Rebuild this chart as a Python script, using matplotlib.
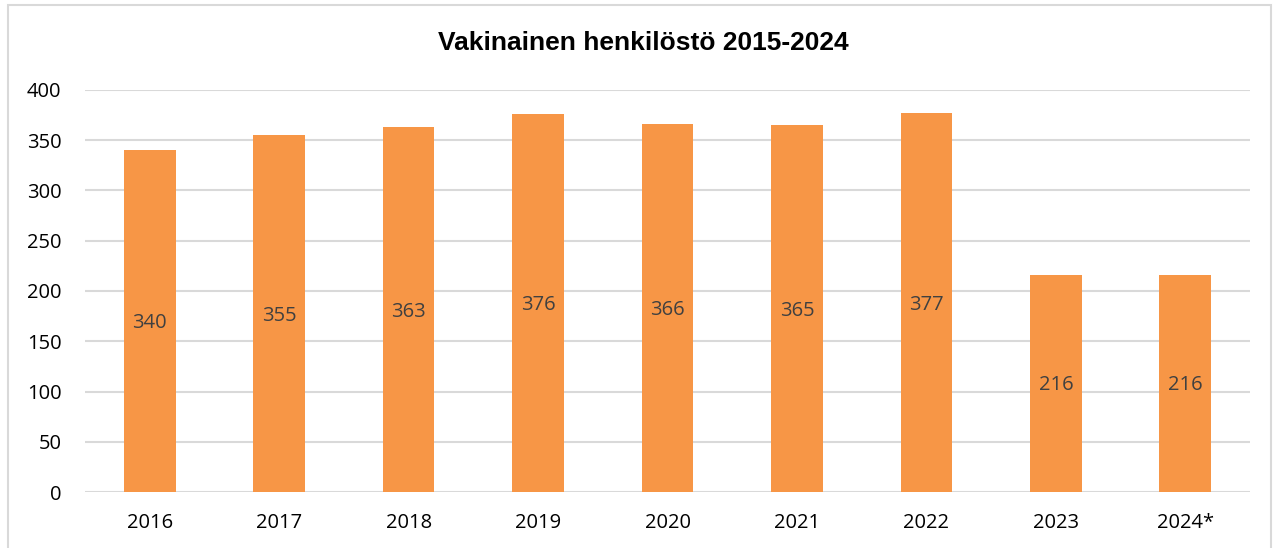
import matplotlib
matplotlib.use("Agg")
import matplotlib.pyplot as plt
from matplotlib.patches import Rectangle

categories = ["2016", "2017", "2018", "2019", "2020", "2021", "2022", "2023", "2024*"]
values = [340, 355, 363, 376, 366, 365, 377, 216, 216]
yticks = [0, 50, 100, 150, 200, 250, 300, 350, 400]
title = "Vakinainen henkilöstö 2015-2024"

W, H = 1277, 548
fig = plt.figure(figsize=(W / 100, H / 100), dpi=100)
fig.patch.set_facecolor("white")

# outer chart frame
fig.add_artist(Rectangle((8 / W, -0.05), (1271 - 8) / W, (H - 5) / H + 0.05,
                         transform=fig.transFigure, fill=False,
                         edgecolor="#D9D9D9", linewidth=1.5))

left, right = 85 / W, 1250 / W
bottom, top = 1 - 492 / H, 1 - 90 / H
ax = fig.add_axes([left, bottom, right - left, top - bottom])

font = ["Open Sans", "DejaVu Sans"]
fs = 14.5
x = list(range(len(categories)))
ax.bar(x, values, width=0.4, color="#F79646", zorder=3)
for xi, v in zip(x, values):
    ax.text(xi, v / 2 - 2, str(v), ha="center", va="center", fontsize=fs,
            color="#404040", family=font, zorder=4)

ax.set_xlim(-0.5, len(categories) - 0.5)
ax.set_ylim(0, 400)
ax.set_yticks(yticks)
ax.set_yticklabels([str(t) for t in yticks], family=font, fontsize=fs)
ax.set_xticks(x)
ax.set_xticklabels(categories, family=font, fontsize=fs)
ax.tick_params(axis="both", length=0, colors="black")
ax.tick_params(axis="y", pad=17)
ax.tick_params(axis="x", pad=15)
ax.yaxis.grid(True, color="#D9D9D9", linewidth=1.5, zorder=0)
ax.set_axisbelow(True)
for s in ax.spines.values():
    s.set_visible(False)

fig.text(643 / W, 1 - 43 / H, title, ha="center", va="center",
         fontsize=19, fontweight="bold", family=["Liberation Sans", "DejaVu Sans"])

fig.savefig("out.png", dpi=100)
